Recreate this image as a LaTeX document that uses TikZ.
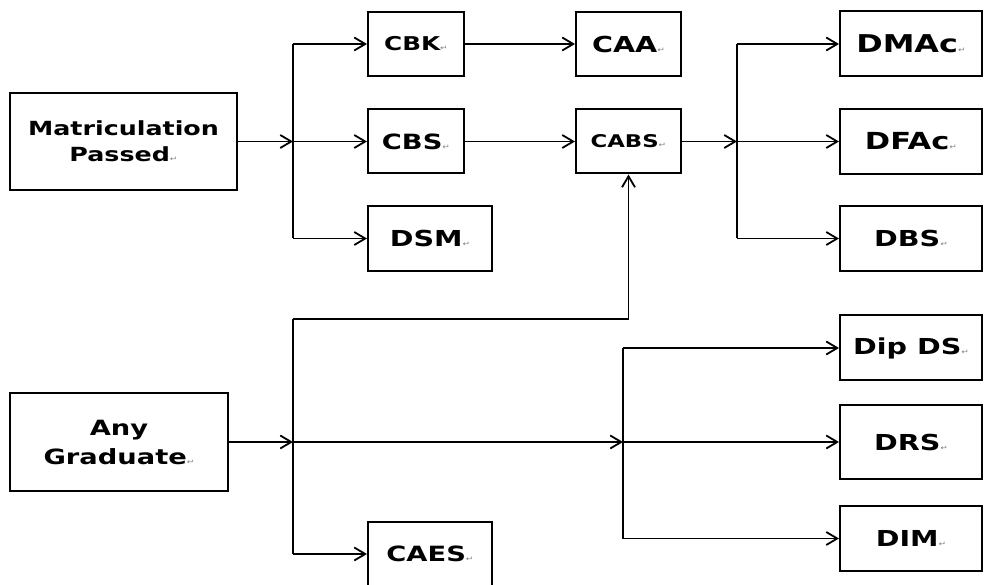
\documentclass[tikz,border=0pt]{standalone}
\usepackage{fontspec}
\setmainfont{DejaVu Sans}[FakeStretch=1.3]
\usetikzlibrary{arrows.meta, positioning}
\newcommand{\parmark}{\textcolor{gray}{\normalfont\fontsize{7}{7}\selectfont ↵}}

\begin{document}
\begin{tikzpicture}[
    x=1pt, y=-1pt,
    box/.style={draw, line width=2pt, inner sep=0pt, align=center, font=\bfseries\fontsize{21}{26}\selectfont},
    course/.style={box, minimum width=96pt, minimum height=64pt},
    diploma/.style={box, minimum width=142pt, minimum height=65pt, font=\bfseries\fontsize{22}{26}\selectfont},
    link/.style={line width=1.8pt},
    flow/.style={link, -{Straight Barb[length=11pt, width=13pt, line width=1.8pt]}}
]
    \useasboundingbox (0,0) rectangle (986,585);

    % entry qualifications
    \node[box, minimum width=227pt, minimum height=97pt, font=\bfseries\fontsize{19.5}{26}\selectfont] (matric) at (123.5,141.5) {Matriculation\\Passed\parmark};
    \node[box, minimum width=218pt, minimum height=97pt, font=\bfseries\fontsize{21}{29}\selectfont] (grad) at (119,442) {Any\\Graduate\parmark};

    % certificates
    \node[course, font=\bfseries\fontsize{19}{22}\selectfont] (cbk) at (416,44) {CBK\parmark};
    \node[course] (cbs) at (416,141.5) {CBS\parmark};
    \node[course, minimum width=124pt, minimum height=65pt, font=\bfseries\fontsize{22}{26}\selectfont] (dsm) at (430,238.5) {DSM\parmark};
    \node[course, minimum width=105pt, font=\bfseries\fontsize{22}{26}\selectfont] (caa) at (628.5,44) {CAA\parmark};
    \node[course, minimum width=105pt, font=\bfseries\fontsize{17.5}{22}\selectfont] (cabs) at (628.5,141.5) {CABS\parmark};
    \node[course, minimum width=124pt, minimum height=65pt] (caes) at (430,554) {CAES\parmark};

    % diplomas
    \node[diploma, font=\bfseries\fontsize{24.5}{26}\selectfont] (dmac) at (911,44) {DMAc\parmark};
    \node[diploma, font=\bfseries\fontsize{23.5}{26}\selectfont] (dfac) at (911,141.5) {DFAc\parmark};
    \node[diploma] (dbs) at (911,238.5) {DBS\parmark};
    \node[diploma] (dipds) at (911,348) {Dip DS\parmark};
    \node[diploma, minimum height=73pt] (drs) at (911,442) {DRS\parmark};
    \node[diploma] (dim) at (911,538.5) {DIM\parmark};

    % matriculation branch
    \coordinate (mj) at (293,141.5);
    \draw[flow] (matric) -- (mj);
    \draw[link] (mj |- cbk) -- (mj |- dsm);
    \draw[flow] (mj |- cbk) -- (cbk);
    \draw[flow] (mj) -- (cbs);
    \draw[flow] (mj |- dsm) -- (dsm);
    \draw[flow] (cbk) -- (caa);
    \draw[flow] (cbs) -- (cabs);

    % advanced branch
    \coordinate (aj) at (737,141.5);
    \draw[flow] (cabs) -- (aj);
    \draw[link] (aj |- dmac) -- (aj |- dbs);
    \draw[flow] (aj |- dmac) -- (dmac);
    \draw[flow] (aj) -- (dfac);
    \draw[flow] (aj |- dbs) -- (dbs);

    % graduate branch
    \coordinate (gj) at (293,442);
    \coordinate (gtop) at (293,319);
    \draw[flow] (grad) -- (gj);
    \draw[link] (gtop) -- (gj |- caes);
    \draw[flow] (gtop) -| (cabs);
    \draw[flow] (gj |- caes) -- (caes);

    \coordinate (dj) at (623,442);
    \draw[flow] (gj) -- (dj);
    \draw[link] (dj |- dipds) -- (dj |- dim);
    \draw[flow] (dj |- dipds) -- (dipds);
    \draw[flow] (dj) -- (drs);
    \draw[flow] (dj |- dim) -- (dim);
\end{tikzpicture}
\end{document}
